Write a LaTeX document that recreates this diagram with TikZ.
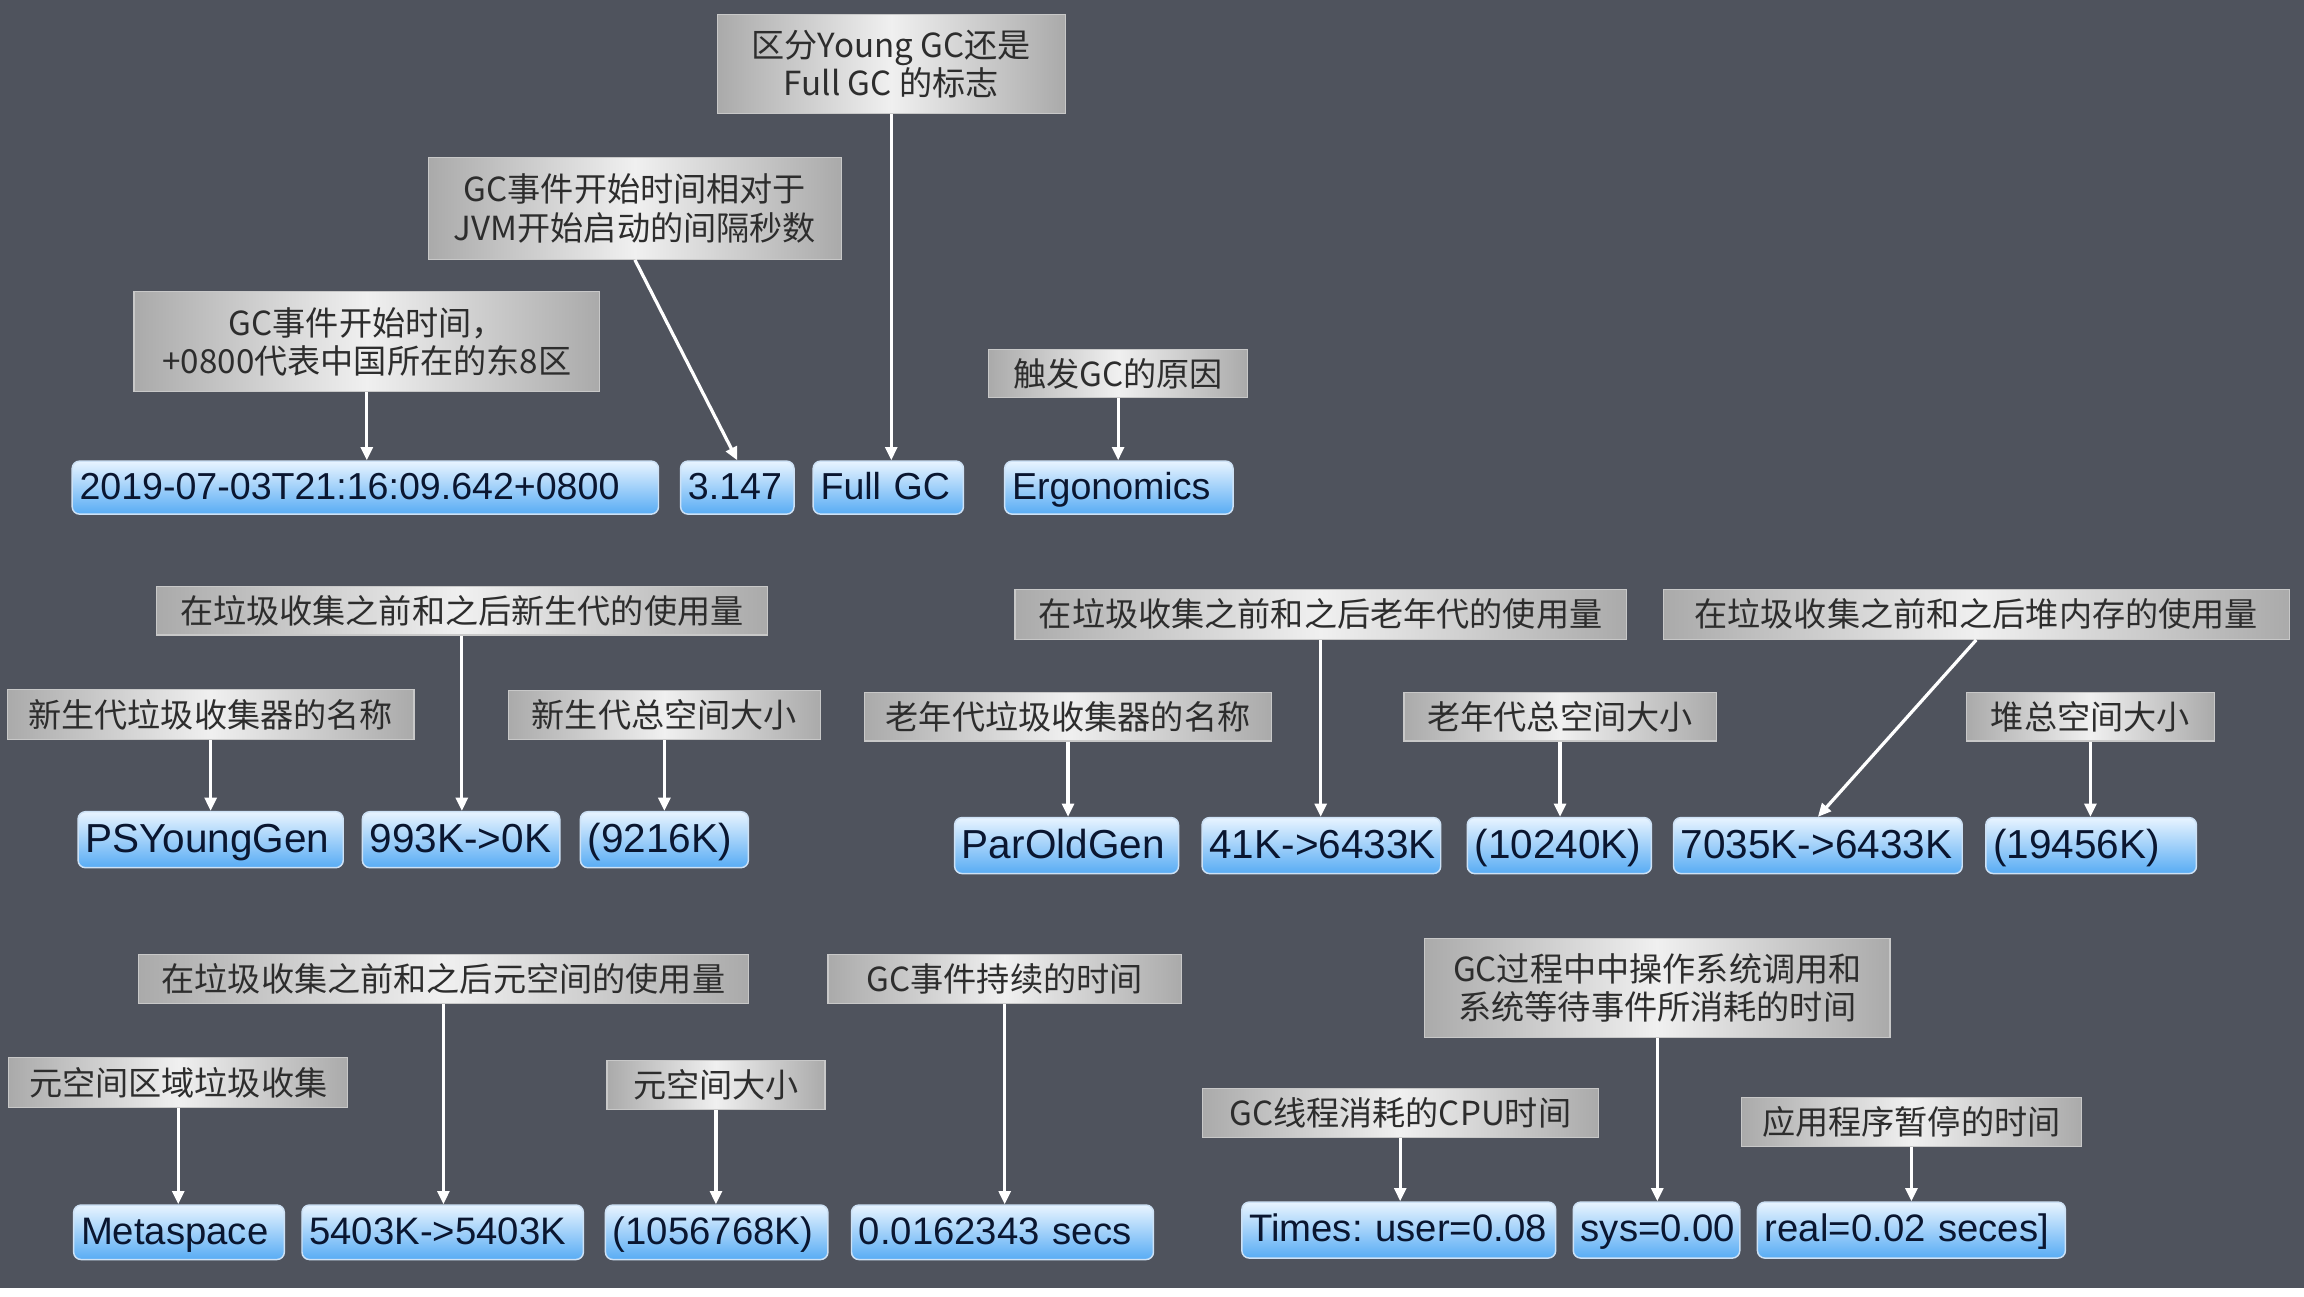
\documentclass[tikz,border=0pt]{standalone}
\usepackage{fontspec}
\newfontfamily\cjk{Noto Sans CJK SC}
\newfontfamily\arialf{Liberation Sans}
\usetikzlibrary{arrows.meta}
\frenchspacing
\newcommand\fixbox{\ht0 0.72em\dp0 0.1em\box0}
\definecolor{bg}{RGB}{79,83,93}
\definecolor{labedge}{RGB}{170,170,170}
\definecolor{labmid}{RGB}{240,240,240}
\definecolor{labborder}{RGB}{200,200,200}
\definecolor{labtext}{RGB}{45,45,45}
\definecolor{blutop}{RGB}{232,244,255}
\definecolor{blubot}{RGB}{88,172,244}
\definecolor{bluborder}{RGB}{205,225,245}
\definecolor{blutext}{RGB}{10,22,48}
\tikzset{
  lab/.style={shade, left color=labedge, right color=labedge, middle color=labmid,
    draw=labborder, line width=0.8pt, inner sep=0pt, align=center, text=labtext,
    font=\cjk\fontsize{22.5}{26}\selectfont},
  blu/.style={rounded corners=5pt, top color=blutop, bottom color=blubot,
    draw=bluborder, line width=1pt, inner xsep=5pt, inner ysep=0pt, align=left, text=blutext,
    execute at begin node={\setbox0\hbox\bgroup},
    execute at end node={\egroup\fixbox}},
  bra/.style={blu, font=\arialf\fontsize{25.5}{28}\selectfont},
  brb/.style={blu, font=\arialf\fontsize{27.5}{30}\selectfont},
  brc/.style={blu, font=\arialf\fontsize{26}{29}\selectfont},
  arr/.style={draw=white, line width=2.2pt, -{Triangle[length=9pt,width=8pt]}},
}
\begin{document}
\begin{tikzpicture}[x=1pt,y=-1pt]
\fill[bg] (0,0) rectangle (1564,880);
\fill[white] (0,874) rectangle (1564,880);
\useasboundingbox (0,0) rectangle (1564,880);

% ---------- row 1 ----------
\node[lab, minimum width=236pt, minimum height=67pt] (lYoung) at (605,43.5) {区分Young GC还是\\Full GC 的标志};
\node[lab, minimum width=280pt, minimum height=69pt] (lRel) at (431,141.5) {GC事件开始时间相对于\\JVM开始启动的间隔秒数};
\node[lab, minimum width=316pt, minimum height=68pt] (lTime) at (249,232) {GC事件开始时间，\\+0800代表中国所在的东8区};
\node[lab, minimum width=176pt, minimum height=33pt] (lCause) at (759,253.5) {触发GC的原因};

\node[bra, text width=388pt, minimum height=36pt] (bTime) at (248,331) {2019-07-03T21:16:09.642+0800};
\node[bra, text width=67pt, minimum height=36pt] (b3147) at (500.5,331) {3.147};
\node[bra, text width=92pt, minimum height=36pt] (bFull) at (603,331) {Full GC};
\node[bra, text width=145pt, minimum height=36pt] (bErgo) at (759.5,331) {Ergonomics};

\draw[arr] (lTime.south) -- (lTime.south |- bTime.north);
\draw[arr] (lRel.south) -- (b3147.north);
\draw[arr] (lYoung.south) -- (lYoung.south |- bFull.north);
\draw[arr] (lCause.south) -- (lCause.south |- bErgo.north);

% ---------- row 2 ----------
\node[lab, minimum width=415pt, minimum height=33pt] (lYoungUse) at (313.5,414.5) {在垃圾收集之前和之后新生代的使用量};
\node[lab, minimum width=276pt, minimum height=34pt] (lYoungName) at (143,485) {新生代垃圾收集器的名称};
\node[lab, minimum width=212pt, minimum height=33pt] (lYoungSize) at (451,485.5) {新生代总空间大小};
\node[lab, minimum width=415pt, minimum height=34pt] (lOldUse) at (896.5,417) {在垃圾收集之前和之后老年代的使用量};
\node[lab, minimum width=425pt, minimum height=34pt] (lHeapUse) at (1341.5,417) {在垃圾收集之前和之后堆内存的使用量};
\node[lab, minimum width=276pt, minimum height=33pt] (lOldName) at (725,486.5) {老年代垃圾收集器的名称};
\node[lab, minimum width=212pt, minimum height=33pt] (lOldSize) at (1059,486.5) {老年代总空间大小};
\node[lab, minimum width=168pt, minimum height=33pt] (lHeapSize) at (1419,486.5) {堆总空间大小};

\node[brb, text width=170pt, minimum height=38pt] (bPSY) at (143,570) {PSYoungGen};
\node[brb, text width=124pt, minimum height=38pt] (b993) at (313,570) {993K->0K};
\node[brb, text width=104pt, minimum height=38pt] (b9216) at (451,570) {(9216K)};
\node[brb, text width=142pt, minimum height=38pt] (bPar) at (724,574) {ParOldGen};
\node[brb, text width=152pt, minimum height=38pt] (b41) at (897,574) {41K->6433K};
\node[brb, text width=115pt, minimum height=38pt] (b10240) at (1058.5,574) {(10240K)};
\node[brb, text width=186pt, minimum height=38pt] (b7035) at (1234,574) {7035K->6433K};
\node[brb, text width=133pt, minimum height=38pt] (b19456) at (1419.5,574) {(19456K)};

\draw[arr] (lYoungName.south) -- (lYoungName.south |- bPSY.north);
\draw[arr] (lYoungUse.south) -- (lYoungUse.south |- b993.north);
\draw[arr] (lYoungSize.south) -- (lYoungSize.south |- b9216.north);
\draw[arr] (lOldName.south) -- (lOldName.south |- bPar.north);
\draw[arr] (lOldUse.south) -- (lOldUse.south |- b41.north);
\draw[arr] (lOldSize.south) -- (lOldSize.south |- b10240.north);
\draw[arr] (lHeapUse.south) -- (b7035.north);
\draw[arr] (lHeapSize.south) -- (lHeapSize.south |- b19456.north);

% ---------- row 3 ----------
\node[lab, minimum width=414pt, minimum height=33pt] (lMetaUse) at (301,664.5) {在垃圾收集之前和之后元空间的使用量};
\node[lab, minimum width=230pt, minimum height=34pt] (lMetaArea) at (121,735) {元空间区域垃圾收集};
\node[lab, minimum width=148pt, minimum height=33pt] (lMetaSize) at (486,736.5) {元空间大小};
\node[lab, minimum width=240pt, minimum height=33pt] (lDur) at (682,664.5) {GC事件持续的时间};
\node[lab, minimum width=316pt, minimum height=67pt] (lSys) at (1125,670.5) {GC过程中中操作系统调用和\\系统等待事件所消耗的时间};
\node[lab, minimum width=269pt, minimum height=33pt] (lCPU) at (950.5,755.5) {GC线程消耗的CPU时间};
\node[lab, minimum width=231pt, minimum height=33pt] (lReal) at (1297.5,761.5) {应用程序暂停的时间};

\node[brc, text width=133pt, minimum height=37pt] (bMeta) at (121.5,836.5) {Metaspace};
\node[brc, text width=181pt, minimum height=37pt] (b5403) at (300.5,836.5) {5403K->5403K};
\node[brc, text width=141pt, minimum height=37pt] (b1056) at (486.5,836.5) {(1056768K)};
\node[brc, text width=195pt, minimum height=37pt] (bDur) at (680.5,836.5) {0.0162343 secs};
\node[brc, text width=203pt, minimum height=38pt] (bTimes) at (949.5,835) {Times: user=0.08};
\node[brc, text width=103pt, minimum height=38pt] (bSys) at (1124.5,835) {sys=0.00};
\node[brc, text width=199pt, minimum height=38pt] (bReal) at (1297.5,835) {real=0.02 seces]};

\draw[arr] (lMetaArea.south) -- (lMetaArea.south |- bMeta.north);
\draw[arr] (lMetaUse.south) -- (lMetaUse.south |- b5403.north);
\draw[arr] (lMetaSize.south) -- (lMetaSize.south |- b1056.north);
\draw[arr] (lDur.south) -- (lDur.south |- bDur.north);
\draw[arr] (lCPU.south) -- (lCPU.south |- bTimes.north);
\draw[arr] (lSys.south) -- (lSys.south |- bSys.north);
\draw[arr] (lReal.south) -- (lReal.south |- bReal.north);
\end{tikzpicture}
\end{document}
